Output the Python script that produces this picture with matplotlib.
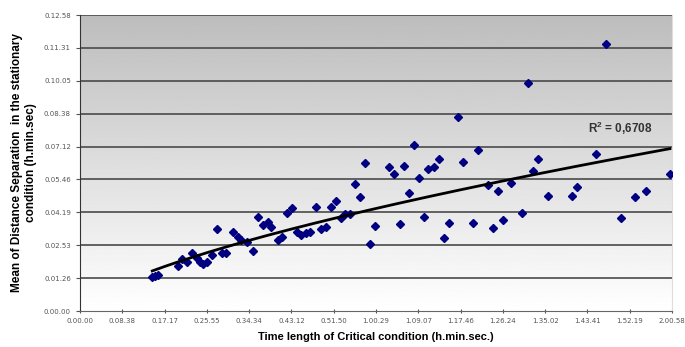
import matplotlib.pyplot as plt
import numpy as np

# time of critical condition (s) and mean distance separation (s)
crit_time = [886, 923, 960, 1206, 1255, 1316, 1378, 1439, 1476, 1513, 1562, 1624, 1685,
             1747, 1796, 1870, 1931, 1968, 2042, 2116, 2177, 2239, 2300, 2337, 2423, 2473,
             2534, 2596, 2657, 2706, 2768, 2817, 2891, 2952, 3014, 3075, 3137, 3198, 3248,
             3309, 3371, 3432, 3494, 3555, 3617, 3789, 3850, 3924, 3974, 4035, 4097, 4158,
             4220, 4269, 4343, 4404, 4466, 4527, 4638, 4699, 4822, 4884, 5007, 5068, 5130,
             5191, 5290, 5425, 5487, 5548, 5610, 5733, 6028, 6089, 6323, 6446, 6631, 6803,
             6938, 7233]
mean_sep = [89, 92, 95, 118, 137, 129, 152, 139, 129, 124, 129, 147, 216,
            152, 152, 208, 195, 187, 181, 158, 247, 226, 234, 221, 187, 195,
            258, 271, 208, 200, 205, 208, 273, 216, 221, 273, 289, 244, 255,
            255, 334, 300, 389, 176, 223, 378, 360, 229, 381, 310, 436, 350,
            247, 373, 378, 400, 192, 231, 510, 392, 231, 423, 331, 218, 315,
            239, 336, 258, 599, 368, 400, 302, 302, 326, 413, 702, 244, 300,
            315, 360]

x_ticklabels = ['0.00.00', '0.08.38', '0.17.17', '0.25.55', '0.34.34', '0.43.12', '0.51.50',
                '1.00.29', '1.09.07', '1.17.46', '1.26.24', '1.35.02', '1.43.41', '1.52.19',
                '2.00.58']
y_ticklabels = ['0.00.00', '0.01.26', '0.02.53', '0.04.19', '0.05.46', '0.07.12', '0.08.38',
                '0.10.05', '0.11.31', '0.12.58']
x_max = 7258
y_max = 778

x = np.array(crit_time, dtype=float)
y = np.array(mean_sep, dtype=float)

# power trendline (like excel)
b, ln_a = np.polyfit(np.log(x), np.log(y), 1)
xf = np.linspace(x.min(), x.max(), 200)
yf = np.exp(ln_a) * xf ** b

fig = plt.figure(figsize=(6.85, 3.47), dpi=100)
ax = fig.add_axes([80 / 685, 1 - 311 / 347, 592 / 685, 296 / 347])

# grey-to-white background gradient
grad = np.linspace(1.0, 0.74, 256).reshape(-1, 1)
ax.imshow(grad, extent=[0, x_max, 0, y_max], aspect='auto', cmap='gray',
          vmin=0, vmax=1, origin='lower', zorder=0)

yt = np.linspace(0, y_max, 10)
for v in yt[1:]:
    ax.axhline(v, color='#4a4a4a', lw=1.2, zorder=1)

ax.plot(x, y, linestyle='none', marker='D', markersize=3.6, color='#000080', zorder=3)
ax.plot(xf, yf, color='black', lw=2, zorder=4)

ax.text(6224, 481, 'R$^{\\mathregular{2}}$ = 0,6708', fontsize=8.5, color='#333333',
        va='center', family='Liberation Sans', fontweight='bold')

ax.set_xlim(0, x_max)
ax.set_ylim(0, y_max)
ax.set_xticks(np.linspace(0, x_max, 15))
ax.set_xticklabels(x_ticklabels)
ax.set_yticks(yt)
ax.set_yticklabels(y_ticklabels)
ax.tick_params(axis='both', labelsize=5, labelcolor='#555555', color='#555555',
               length=3, width=0.8)
ax.tick_params(axis='x', direction='inout')

ax.spines['top'].set_visible(False)
ax.spines['right'].set_color('#dddddd')
ax.spines['left'].set_color('#333333')
ax.spines['bottom'].set_color('#666666')

ax.set_xlabel('Time length of Critical condition (h.min.sec.)', fontsize=8,
              fontweight='bold', family='Liberation Sans', labelpad=6)
ax.set_ylabel('Mean of Distance Separation  in the stationary\ncondition (h.min.sec)',
              fontsize=8.5, fontweight='bold', family='Liberation Sans', labelpad=5)

plt.savefig('out.png', dpi=100)
